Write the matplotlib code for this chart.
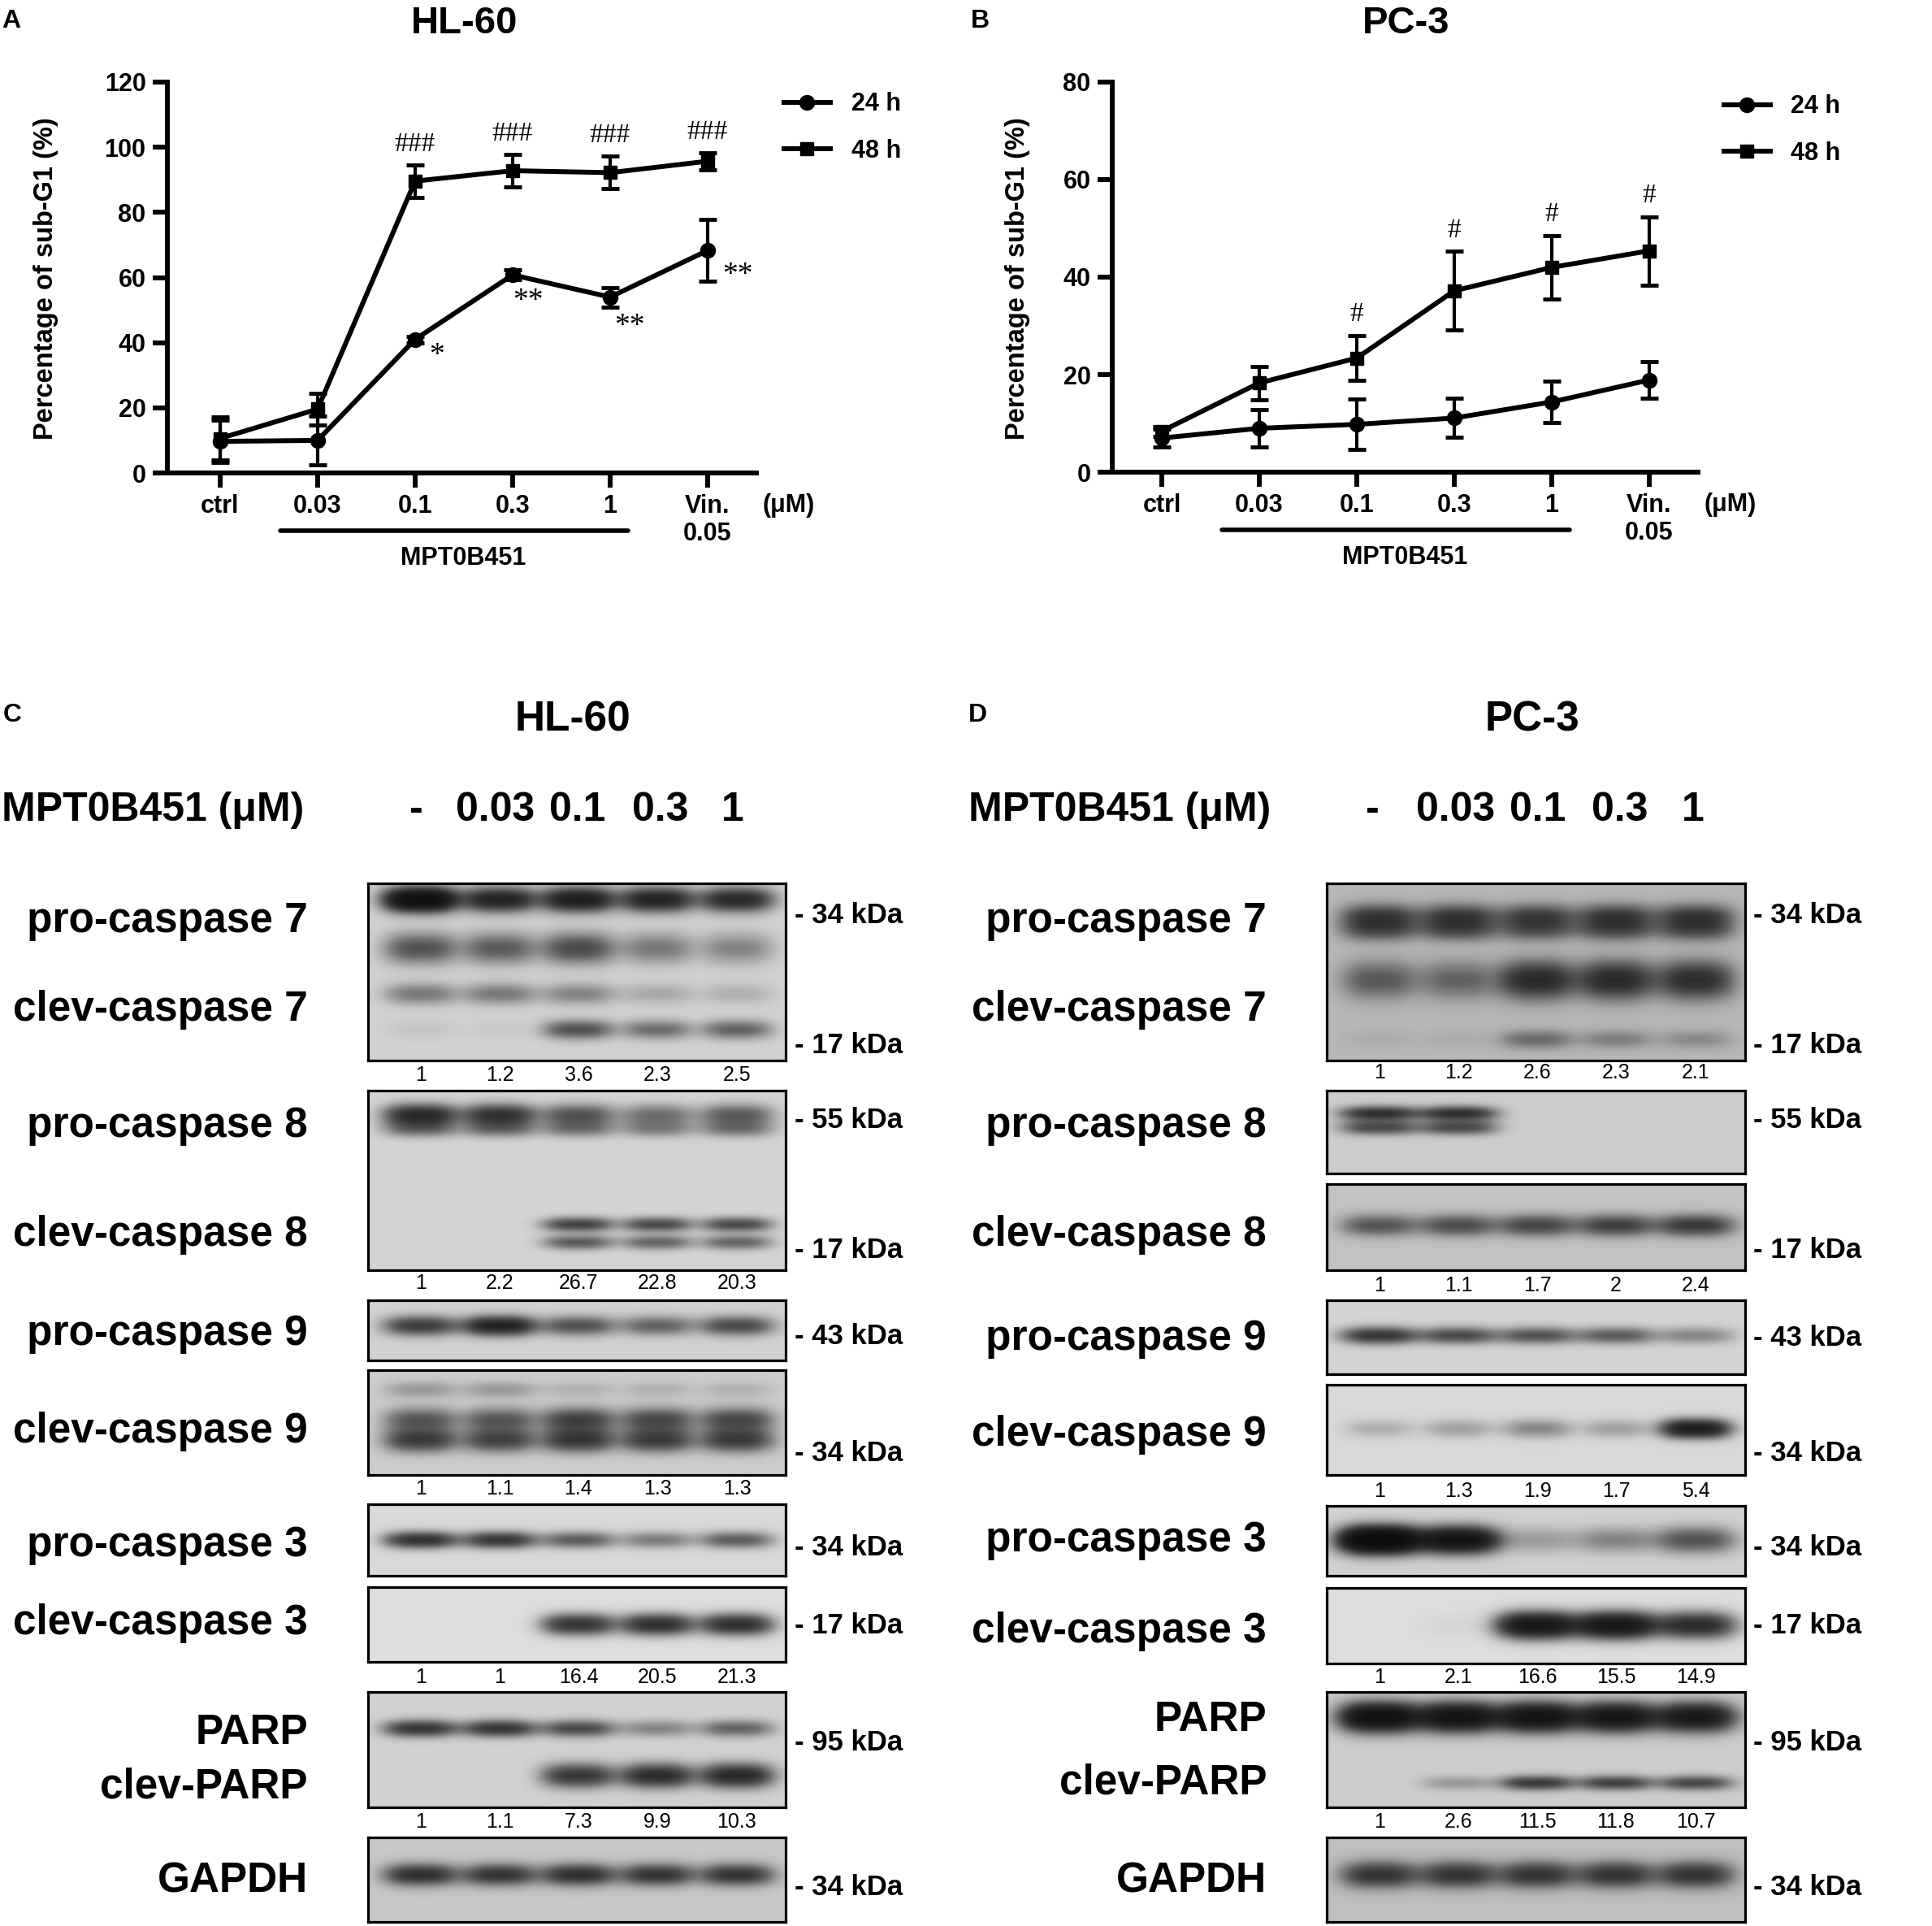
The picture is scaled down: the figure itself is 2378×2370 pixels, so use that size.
import numpy as np
import matplotlib
matplotlib.use('Agg')
import matplotlib.pyplot as plt
from matplotlib.transforms import blended_transform_factory

plt.rcParams['font.family'] = ['Liberation Sans', 'DejaVu Sans']

W, H = 2378, 2370
DPI = 100

# ---------------- data: sub-G1 ----------------
categories = ['ctrl', '0.03', '0.1', '0.3', '1', 'Vin.\n0.05']
hl60_24h = [9.7, 10.0, 41.0, 60.8, 54.0, 68.3]
hl60_24h_err = [6.5, 7.5, 1.0, 1.5, 3.0, 9.5]
hl60_48h = [10.6, 19.6, 89.6, 92.8, 92.2, 95.7]
hl60_48h_err = [6.5, 4.8, 5.0, 5.0, 5.0, 2.7]
hl60_sig48 = ['', '', '###', '###', '###', '###']
hl60_sig24 = ['', '', '*', '**', '**', '**']

pc3_24h = [7.0, 9.0, 9.8, 11.1, 14.4, 18.9]
pc3_24h_err = [1.8, 3.8, 5.2, 4.0, 4.2, 3.8]
pc3_48h = [8.4, 18.3, 23.4, 37.2, 42.0, 45.4]
pc3_48h_err = [1.0, 3.4, 4.6, 8.1, 6.5, 7.0]
pc3_sig48 = ['', '', '#', '#', '#', '#']

# ---------------- data: western blots ----------------
doses = ['-', '0.03', '0.1', '0.3', '1']

hl60_q_casp7 = [1, 1.2, 3.6, 2.3, 2.5]
hl60_q_casp8 = [1, 2.2, 26.7, 22.8, 20.3]
hl60_q_casp9 = [1, 1.1, 1.4, 1.3, 1.3]
hl60_q_casp3 = [1, 1, 16.4, 20.5, 21.3]
hl60_q_parp = [1, 1.1, 7.3, 9.9, 10.3]

pc3_q_casp7 = [1, 1.2, 2.6, 2.3, 2.1]
pc3_q_casp8 = [1, 1.1, 1.7, 2, 2.4]
pc3_q_casp9 = [1, 1.3, 1.9, 1.7, 5.4]
pc3_q_casp3 = [1, 2.1, 16.6, 15.5, 14.9]
pc3_q_parp = [1, 2.6, 11.5, 11.8, 10.7]

# band intensities (relative darkness per lane)
hl60_b_casp7 = [[1.6, 1.0, 1.1, 1.0, 0.9], [0.55, 0.5, 0.6, 0.35, 0.3],
                [0.35, 0.35, 0.3, 0.15, 0.12], [0.05, 0.03, 0.55, 0.4, 0.45]]
hl60_b_casp8 = [[0.9, 0.8, 0.55, 0.4, 0.5], [0.4, 0.4, 0.35, 0.3, 0.35],
                [0.0, 0.0, 0.65, 0.6, 0.6], [0.0, 0.0, 0.5, 0.45, 0.45]]
hl60_b_procasp9 = [[0.7, 1.0, 0.55, 0.45, 0.6]]
hl60_b_clevcasp9 = [[0.2, 0.2, 0.1, 0.1, 0.1], [0.5, 0.5, 0.65, 0.6, 0.6],
                    [0.7, 0.65, 0.75, 0.7, 0.7]]
hl60_b_procasp3 = [[0.8, 0.75, 0.5, 0.35, 0.5]]
hl60_b_clevcasp3 = [[0.0, 0.0, 0.8, 0.85, 0.85]]
hl60_b_parp = [[0.75, 0.75, 0.6, 0.3, 0.45], [0.0, 0.0, 0.75, 0.85, 0.9]]
hl60_b_gapdh = [[0.8, 0.75, 0.8, 0.75, 0.75]]

pc3_b_casp7 = [[0.7, 0.7, 0.65, 0.7, 0.7], [0.4, 0.4, 0.35, 0.4, 0.4],
               [0.45, 0.4, 0.85, 0.85, 0.8], [0.05, 0.05, 0.35, 0.25, 0.2]]
pc3_b_procasp8 = [[0.8, 0.8, 0.0, 0.0, 0.0], [0.6, 0.6, 0.0, 0.0, 0.0]]
pc3_b_clevcasp8 = [[0.5, 0.55, 0.6, 0.65, 0.7]]
pc3_b_procasp9 = [[0.75, 0.6, 0.55, 0.5, 0.3]]
pc3_b_clevcasp9 = [[0.15, 0.2, 0.3, 0.2, 1.1]]
pc3_b_procasp3 = [[2.0, 1.4, 0.2, 0.3, 0.55]]
pc3_b_clevcasp3 = [[0.0, 0.03, 1.3, 1.3, 0.9]]
pc3_b_parp = [[1.5, 1.4, 1.4, 1.3, 1.2], [0.0, 0.2, 0.7, 0.65, 0.6]]
pc3_b_gapdh = [[0.75, 0.75, 0.75, 0.75, 0.75]]

# ---------------- figure ----------------
fig = plt.figure(figsize=(W / DPI, H / DPI), dpi=DPI)
fig.patch.set_facecolor('white')


def fx(x):
    return x / W


def fy(y):
    return 1 - y / H


LW = 4.3


def line_panel(rect, ylim, yticks, d24, e24, d48, e48, xlim, legend_xy, ylabel_x):
    ax = fig.add_axes(rect)
    x = np.arange(len(categories))
    ax.errorbar(x, d24, yerr=e24, fmt='none', ecolor='black', elinewidth=3,
                capsize=8, capthick=3.5, zorder=3, clip_on=False)
    ax.errorbar(x, d48, yerr=e48, fmt='none', ecolor='black', elinewidth=3,
                capsize=8, capthick=3.5, zorder=3, clip_on=False)
    l24, = ax.plot(x, d24, '-o', color='black', lw=LW, ms=13, zorder=4, clip_on=False)
    l48, = ax.plot(x, d48, '-s', color='black', lw=LW, ms=12, zorder=4, clip_on=False)
    ax.set_xlim(*xlim)
    ax.set_ylim(*ylim)
    ax.set_yticks(yticks)
    ax.set_xticks(x)
    ax.set_xticklabels(categories, fontsize=22, fontweight='bold', linespacing=1.15)
    for lab in ax.get_yticklabels():
        lab.set_fontsize(22)
        lab.set_fontweight('bold')
    for s in ['top', 'right']:
        ax.spines[s].set_visible(False)
    for s in ['left', 'bottom']:
        ax.spines[s].set_linewidth(LW)
    ax.tick_params(axis='both', length=13, width=LW, direction='out', pad=6)
    ax.set_facecolor('none')
    tr = blended_transform_factory(ax.transData, ax.transAxes)
    ax.plot([0.62, 4.18], [-0.148, -0.148], transform=tr, color='black', lw=4,
            solid_capstyle='round', clip_on=False)
    ax.text(2.49, -0.218, 'MPT0B451', transform=tr, ha='center', va='center',
            fontsize=22, fontweight='bold')
    ax.text(5.83, -0.083, '(μM)', transform=tr, ha='center', va='center',
            fontsize=22, fontweight='bold')
    ax.legend([l24, l48], ['24 h', '48 h'], loc='center left',
              bbox_to_anchor=legend_xy, bbox_transform=fig.transFigure,
              frameon=False, prop={'size': 22, 'weight': 'bold'},
              handlelength=1.85, handletextpad=0.85, labelspacing=0.9,
              borderpad=0, borderaxespad=0)
    fig.text(ylabel_x, fy(343), 'Percentage of sub-G1 (%)', rotation=90,
             ha='center', va='center', fontsize=23.5, fontweight='bold')
    return ax


axA = line_panel([fx(206), fy(582), 725 / W, 481 / H], (0, 120), [0, 20, 40, 60, 80, 100, 120],
                 hl60_24h, hl60_24h_err, hl60_48h, hl60_48h_err, (-0.54, 5.5),
                 (fx(965), fy(157)), fx(57))
for i, s in enumerate(hl60_sig48):
    if s:
        axA.text(i, hl60_48h[i] + hl60_48h_err[i] + 6.3, s, ha='center', va='center',
                 fontsize=24, family='Liberation Serif')
star_off = [(0, 0), (0, 0), (0.22, -5.0), (0.16, -8.0), (0.2, -9.0), (0.31, -7.5)]
for i, s in enumerate(hl60_sig24):
    if s:
        axA.text(i + star_off[i][0], hl60_24h[i] + star_off[i][1], s, ha='center',
                 va='center', fontsize=27, family='Liberation Serif')

axB = line_panel([fx(1369), fy(581), 721 / W, 480 / H], (0, 80), [0, 20, 40, 60, 80],
                 pc3_24h, pc3_24h_err, pc3_48h, pc3_48h_err, (-0.508, 5.5),
                 (fx(2122), fy(160)), fx(1253))
for i, s in enumerate(pc3_sig48):
    if s:
        axB.text(i, pc3_48h[i] + pc3_48h_err[i] + 4.3, s, ha='center', va='center',
                 fontsize=24, family='Liberation Serif')

# panel letters and titles
for txt, x, y in [('A', 2, 26), ('B', 1195, 26), ('C', 4, 880), ('D', 1192, 880)]:
    fig.text(fx(x), fy(y), txt, ha='left', va='center', fontsize=23, fontweight='bold')
fig.text(fx(572), fy(29), 'HL-60', ha='center', va='center', fontsize=34, fontweight='bold')
fig.text(fx(1731), fy(29), 'PC-3', ha='center', va='center', fontsize=34, fontweight='bold')
fig.text(fx(705), fy(886), 'HL-60', ha='center', va='center', fontsize=37, fontweight='bold')
fig.text(fx(1886), fy(886), 'PC-3', ha='center', va='center', fontsize=37, fontweight='bold')

# ---------------- western blots ----------------
LANE_REL = [65, 162, 259, 356, 454]


def add_blot(x0, y0, x1, y1, bg, intens, geom):
    w = x1 - x0
    h = y1 - y0
    ax = fig.add_axes([fx(x0), fy(y1), w / W, h / H])
    X, Y = np.meshgrid(np.arange(w) + 0.5, np.arange(h) + 0.5)
    dark = np.zeros_like(X)
    for inten, (yc, sy, hw) in zip(intens, geom):
        for xc, I in zip(LANE_REL, inten):
            dark += I * np.exp(-np.abs((X - xc) / hw) ** 3) * np.exp(-0.5 * ((Y - yc) / sy) ** 2)
    img = bg - (bg - 0.05) * np.tanh(1.4 * dark)
    ax.imshow(img, cmap='gray', vmin=0, vmax=1, extent=(0, w, h, 0), aspect='auto',
              interpolation='bilinear')
    ax.set_xticks([])
    ax.set_yticks([])
    for s in ax.spines.values():
        s.set_linewidth(2.3)
    return ax


def header(left, dose_x):
    fig.text(fx(left), fy(997), 'MPT0B451 (μM)', ha='left', va='center', fontsize=36,
             fontweight='bold')
    for d, x in zip(doses, dose_x):
        fig.text(fx(x), fy(997), d, ha='center', va='center', fontsize=36, fontweight='bold')


def label(xr, y, t):
    fig.text(fx(xr), fy(y), t, ha='right', va='center', fontsize=37, fontweight='bold')


def kda(xl, y, t):
    fig.text(fx(xl), fy(y), '- ' + t + ' kDa', ha='left', va='center', fontsize=25,
             fontweight='bold')


def quant(box_left, y, vals):
    for xc, v in zip(LANE_REL, vals):
        fig.text(fx(box_left + xc), fy(y), f'{v:g}', ha='center', va='center', fontsize=18)


# Panel C (HL-60)
cl, cr = 453, 967
header(2, [512, 610, 711, 813, 902])
add_blot(cl, 1087, cr, 1305, 0.82, hl60_b_casp7, [(20, 10, 44), (80, 13, 44), (136, 9, 44), (180, 8, 42)])
add_blot(cl, 1342, cr, 1563, 0.83, hl60_b_casp8, [(31, 9, 44), (48, 7, 44), (165, 6, 42), (187, 6, 42)])
add_blot(cl, 1600, cr, 1674, 0.82, hl60_b_procasp9, [(32, 8, 44)])
add_blot(cl, 1686, cr, 1815, 0.80, hl60_b_clevcasp9, [(24, 7, 44), (61, 10, 44), (86, 10, 44)])
add_blot(cl, 1851, cr, 1939, 0.85, hl60_b_procasp3, [(44, 7, 44)])
add_blot(cl, 1953, cr, 2045, 0.87, hl60_b_clevcasp3, [(46, 9, 44)])
add_blot(cl, 2082, cr, 2224, 0.82, hl60_b_parp, [(45, 7, 44), (103, 10, 44)])
add_blot(cl, 2261, cr, 2365, 0.78, hl60_b_gapdh, [(46, 9, 44)])
quant(cl, 1323, hl60_q_casp7)
quant(cl, 1579, hl60_q_casp8)
quant(cl, 1832, hl60_q_casp9)
quant(cl, 2064, hl60_q_casp3)
quant(cl, 2242, hl60_q_parp)
for y, t in [(1134, 'pro-caspase 7'), (1243, 'clev-caspase 7'), (1386, 'pro-caspase 8'),
             (1519, 'clev-caspase 8'), (1642, 'pro-caspase 9'), (1762, 'clev-caspase 9'),
             (1902, 'pro-caspase 3'), (1998, 'clev-caspase 3'), (2133, 'PARP'),
             (2199, 'clev-PARP'), (2315, 'GAPDH')]:
    label(379, y, t)
for y, t in [(1126, '34'), (1286, '17'), (1378, '55'), (1538, '17'), (1644, '43'),
             (1789, '34'), (1905, '34'), (2000, '17'), (2145, '95'), (2322, '34')]:
    kda(978, y, t)

# Panel D (PC-3)
dl, dr = 1633, 2148
header(1192, [1689, 1792, 1893, 1994, 2084])
add_blot(dl, 1087, dr, 1305, 0.72, pc3_b_casp7, [(42, 11, 46), (59, 9, 46), (119, 16, 46), (192, 8, 44)])
add_blot(dl, 1342, dr, 1444, 0.80, pc3_b_procasp8, [(29, 6, 46), (46, 6, 46)])
add_blot(dl, 1457, dr, 1563, 0.76, pc3_b_clevcasp8, [(51, 9, 46)])
add_blot(dl, 1600, dr, 1691, 0.83, pc3_b_procasp9, [(44, 7, 46)])
add_blot(dl, 1704, dr, 1815, 0.85, pc3_b_clevcasp9, [(54, 8, 42)])
add_blot(dl, 1853, dr, 1939, 0.82, pc3_b_procasp3, [(42, 11, 48)])
add_blot(dl, 1954, dr, 2047, 0.87, pc3_b_clevcasp3, [(46, 11, 48)])
add_blot(dl, 2082, dr, 2224, 0.80, pc3_b_parp, [(31, 12, 48), (112, 6, 44)])
add_blot(dl, 2261, dr, 2365, 0.75, pc3_b_gapdh, [(46, 11, 46)])
quant(dl, 1320, pc3_q_casp7)
quant(dl, 1582, pc3_q_casp8)
quant(dl, 1835, pc3_q_casp9)
quant(dl, 2064, pc3_q_casp3)
quant(dl, 2242, pc3_q_parp)
for y, t in [(1134, 'pro-caspase 7'), (1243, 'clev-caspase 7'), (1386, 'pro-caspase 8'),
             (1519, 'clev-caspase 8'), (1647, 'pro-caspase 9'), (1765, 'clev-caspase 9'),
             (1895, 'pro-caspase 3'), (2008, 'clev-caspase 3'), (2116, 'PARP'),
             (2194, 'clev-PARP'), (2315, 'GAPDH')]:
    label(1559, y, t)
for y, t in [(1126, '34'), (1286, '17'), (1378, '55'), (1538, '17'), (1647, '43'),
             (1789, '34'), (1905, '34'), (2000, '17'), (2145, '95'), (2322, '34')]:
    kda(2158, y, t)

fig.savefig('out.png', dpi=DPI, facecolor='white')
